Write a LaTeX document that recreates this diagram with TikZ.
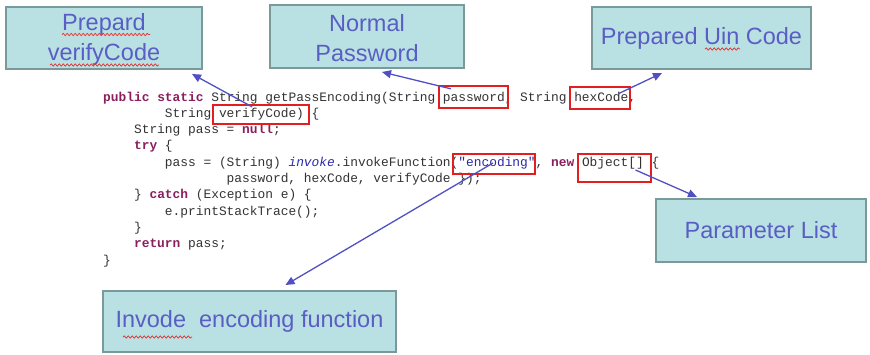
\documentclass[tikz,border=0pt]{standalone}
\usepackage{fontspec}
\setmainfont{Liberation Sans}
\newfontfamily\codefont{Liberation Mono}
\usetikzlibrary{arrows.meta,calc,decorations.pathmorphing}

\definecolor{boxfill}{HTML}{B9E0E2}
\definecolor{boxedge}{HTML}{7A9A9A}
\definecolor{labelblue}{HTML}{5A5EC4}
\definecolor{arrowblue}{HTML}{5050C4}
\definecolor{hilite}{HTML}{E21E1E}
\definecolor{spellred}{HTML}{E03030}
\definecolor{kwcolor}{HTML}{8A1F5E}
\definecolor{codegray}{HTML}{333333}
\definecolor{fieldblue}{HTML}{2A2AA8}

% code highlighting
\newcommand\kw[1]{{\color{kwcolor}\bfseries #1}}
\newcommand\fld[1]{{\color{fieldblue}\itshape #1}}
\newcommand\strlit[1]{{\color{fieldblue}#1}}
% taller first line, pushes two-line labels slightly down
\newcommand\toprule{\rule{0pt}{20pt}}

\begin{document}
\begin{tikzpicture}[x=1pt,y=-1pt,
  callout/.style={draw=boxedge, line width=2pt, fill=boxfill, text=labelblue,
    font=\fontsize{23.5}{29.5}\selectfont, align=center, inner sep=0pt},
  codeline/.style={anchor=base west, inner sep=0pt, text=codegray,
    font=\codefont\fontsize{12.87}{15}\selectfont},
  mark box/.style={draw=hilite, line width=2.4pt, inner sep=0pt},
  pointer/.style={draw=arrowblue, line width=1.3pt,
    -{Triangle[length=9pt,width=8pt]}},
  wavy/.style={draw=spellred, line width=0.7pt,
    decorate, decoration={snake, amplitude=1.1pt, segment length=4pt}}]

\useasboundingbox (0,0) rectangle (870,354);

% ---- source listing ----
\def\cw{7.72}
\node[codeline] (c0) at (103,101)
  {\kw{public static} String getPassEncoding(String password, String hexCode,};
\node[codeline] (c1) at (103+8*\cw,117.3) {String verifyCode) \{};
\node[codeline] (c2) at (103+4*\cw,133.6) {String pass = \kw{null};};
\node[codeline] (c3) at (103+4*\cw,149.9) {\kw{try} \{};
\node[codeline] (c4) at (103+8*\cw,166.2)
  {pass = (String) \fld{invoke}.invokeFunction(\strlit{"encoding"}, \kw{new} Object[] \{};
\node[codeline] (c5) at (103+16*\cw,182.5) {password, hexCode, verifyCode \});};
\node[codeline] (c6) at (103+4*\cw,198.8) {\} \kw{catch} (Exception e) \{};
\node[codeline] (c7) at (103+8*\cw,215.1) {e.printStackTrace();};
\node[codeline] (c8) at (103+4*\cw,231.4) {\}};
\node[codeline] (c9) at (103+4*\cw,247.7) {\kw{return} pass;};
\node[codeline] (c10) at (103,264) {\}};

% ---- highlighted tokens ----
\node[mark box, minimum width=96, minimum height=19] (hv) at (261,114.5) {};
\node[mark box, minimum width=69, minimum height=22] (hp) at (473.5,97) {};
\node[mark box, minimum width=60, minimum height=22] (hh) at (600,98) {};
\node[mark box, minimum width=82, minimum height=20] (he) at (494,164) {};
\node[mark box, minimum width=73, minimum height=28] (ho) at (614.5,168) {};

% ---- callouts ----
\node[callout, minimum width=196, minimum height=62] (verify) at (104,38)
  {\toprule Prepard\\verifyCode};
\node[callout, minimum width=194, minimum height=63] (normal) at (367,36.5)
  {\toprule Normal\\Password};
\node[callout, minimum width=219, minimum height=62] (uin) at (701.5,38)
  {Prepared Uin Code};
\node[callout, minimum width=210, minimum height=63] (params) at (761,230.5)
  {Parameter List};
\node[callout, minimum width=293, minimum height=61] (invoke) at (249.5,321.5)
  {Invode\ \ encoding function};

% ---- spell-check squiggles ----
\draw[wavy] (62,34.5) -- (150,34.5);
\draw[wavy] (50,65) -- (159,65);
\draw[wavy] (705,49) -- (740,49);
\draw[wavy] (123,337) -- (192,337);

% ---- pointers ----
\draw[pointer] ($(hv.north)+(-9,3)$) -- ($(verify.south east)+(-11,4)$);
\draw[pointer] ($(hp.north west)+(13,4)$) -- ($(normal.south)+(15,3)$);
\draw[pointer] ($(hh.north east)+(-13,8)$) -- ($(uin.south west)+(71,3)$);
\draw[pointer] ($(he.center)+(-1,-1)$) -- ($(invoke.north)+(36,-5)$);
\draw[pointer] ($(ho.center)+(21,2)$) -- ($(params.north west)+(42,-1)$);
\end{tikzpicture}
\end{document}
